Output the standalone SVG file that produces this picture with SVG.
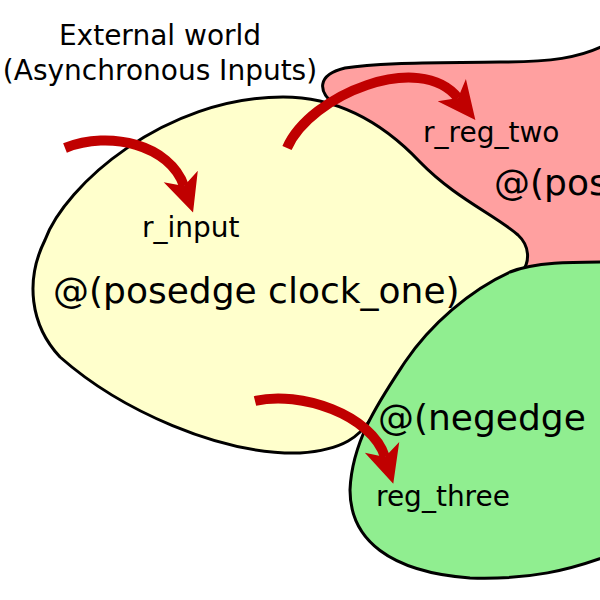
<svg xmlns="http://www.w3.org/2000/svg" width="600" height="600" viewBox="0 0 600 600">
<style>
.blob{stroke:#000;stroke-width:3;stroke-linejoin:round}
.t{font-family:"DejaVu Sans","Noto Sans",sans-serif;fill:#000}
.s28{font-size:28px}
.s36{font-size:36px}
.arr{fill:none;stroke:#c00000;stroke-width:10;marker-end:url(#head)}
</style>
<defs>
<marker id="head" markerUnits="userSpaceOnUse" markerWidth="60" markerHeight="60" refX="10" refY="0" orient="auto" overflow="visible" viewBox="-30 -30 60 60">
<path d="M38,0 L0,-18 L10,0 L0,18 Z" fill="#c00000"/>
</marker>
</defs>
<rect width="600" height="600" fill="#fff"/>
<g id="clock_two">
<path class="blob" fill="#ffa0a0" d="M335,105 C318,92 316,75 345,68 C380,62 440,63 500,62 C550,62 580,58 605,45 L605,300 L510,285 L360,140 Z"/>
<text class="t s28" x="423" y="142">r_reg_two</text>
<text class="t s36" x="494" y="195">@(pos</text>
</g>
<g id="clock_one">
<path class="blob" fill="#ffffcc" d="M283,97 C340,97 385,125 420,162 C455,198 495,215 518,235 C530,246 530,262 522,272 L440,360 L370,420 C360,435 345,450 300,453 C220,455 120,410 60,357 C30,325 25,280 45,240 C65,185 165,97 283,97 Z"/>
<text class="t s28" x="142" y="237">r_input</text>
<text class="t s36" x="53" y="303">@(posedge clock_one)</text>
</g>
<g id="clock_neg">
<path class="blob" fill="#90ee90" d="M610,262 C570,262 535,262 510,272 C470,290 430,325 405,362 C380,400 352,440 350,490 C350,540 390,572 470,578 C530,580 570,570 610,555 Z"/>
<text class="t s36" x="378" y="430">@(negedge</text>
<text class="t s28" x="376" y="506">reg_three</text>
</g>
<g id="external">
<text class="t s28" x="160" y="45" text-anchor="middle">External world</text>
<text class="t s28" x="160" y="80" text-anchor="middle">(Asynchronous Inputs)</text>
</g>
<g id="connectors">
<path class="arr" d="M65,148 C110,130 170,145 184,186"/>
<path class="arr" d="M287,148 C310,95 420,50 458,98"/>
<path class="arr" d="M255,401 C300,390 372,415 385,457"/>
</g>
</svg>
